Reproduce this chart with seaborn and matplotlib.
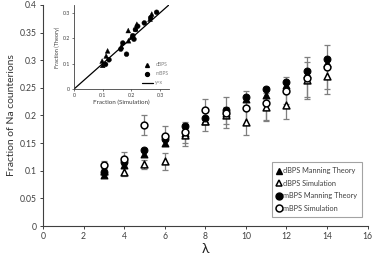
import matplotlib
matplotlib.use("Agg")
import matplotlib.pyplot as plt
import seaborn as sns
import numpy as np
import pandas as pd
from matplotlib.lines import Line2D

# ---- data ----
lam = [3, 4, 5, 6, 7, 8, 9, 10, 11, 12, 13, 14]
dbps_theory = [0.093, 0.110, 0.130, 0.150, 0.168, 0.190, 0.205, 0.230, 0.237, 0.255, 0.275, 0.295]
dbps_sim = [0.100, 0.098, 0.112, 0.117, 0.165, 0.190, 0.200, 0.189, 0.215, 0.219, 0.265, 0.271]
dbps_sim_err = [0.005, 0.007, 0.008, 0.015, 0.020, 0.019, 0.015, 0.024, 0.025, 0.026, 0.032, 0.032]
mbps_theory = [0.097, 0.115, 0.137, 0.157, 0.181, 0.196, 0.210, 0.234, 0.247, 0.260, 0.280, 0.302]
mbps_sim = [0.110, 0.122, 0.183, 0.163, 0.170, 0.209, 0.205, 0.214, 0.222, 0.245, 0.267, 0.288]
mbps_sim_err = [0.007, 0.011, 0.018, 0.018, 0.019, 0.020, 0.028, 0.030, 0.030, 0.025, 0.038, 0.040]

x_ticks = [0, 2, 4, 6, 8, 10, 12, 14, 16]
y_ticks = [0, 0.05, 0.1, 0.15, 0.2, 0.25, 0.3, 0.35, 0.4]
y_ticklabels = ["0", "0.05", "0.1", "0.15", "0.2", "0.25", "0.3", "0.35", "0.4"]
inset_ticks = [0, 0.1, 0.2, 0.3]
inset_ticklabels = ["0", "0.1", "0.2", "0.3"]

sns.set_style("ticks")
plt.rcParams["font.family"] = ["Lato", "DejaVu Sans"]

fig = plt.figure(figsize=(3.74, 2.58), dpi=100)
ax = fig.add_axes([0.115, 0.124, 0.868, 0.857])

df = pd.DataFrame({
    "lam": lam,
    "dbps_theory": dbps_theory,
    "dbps_sim": dbps_sim,
    "mbps_theory": mbps_theory,
    "mbps_sim": mbps_sim,
})

errc = "#7f7f7f"
ax.errorbar(lam, dbps_sim, yerr=dbps_sim_err, fmt="none", ecolor=errc,
            elinewidth=0.9, capsize=2.5, capthick=0.9, zorder=1)
ax.errorbar(lam, mbps_sim, yerr=mbps_sim_err, fmt="none", ecolor=errc,
            elinewidth=0.9, capsize=2.5, capthick=0.9, zorder=1)

ms = 24
sns.scatterplot(data=df, x="lam", y="dbps_theory", marker="^", color="black",
                edgecolor="black", s=ms, linewidth=0.8, ax=ax, zorder=3)
sns.scatterplot(data=df, x="lam", y="dbps_sim", marker="^", color="white",
                edgecolor="black", s=ms, linewidth=1.1, ax=ax, zorder=3)
sns.scatterplot(data=df, x="lam", y="mbps_theory", marker="o", color="black",
                edgecolor="black", s=ms, linewidth=0.8, ax=ax, zorder=3)
sns.scatterplot(data=df, x="lam", y="mbps_sim", marker="o", color="white",
                edgecolor="black", s=ms, linewidth=1.1, ax=ax, zorder=4)

ax.set_xlim(0, 16)
ax.set_ylim(0, 0.4)
ax.set_xticks(x_ticks)
ax.set_xticklabels([str(t) for t in x_ticks])
ax.set_yticks(y_ticks)
ax.set_yticklabels(y_ticklabels)
ax.tick_params(labelsize=6.2, length=2.5, width=0.7, colors="#404040", labelcolor="#404040", pad=2)
for s in ["left", "bottom"]:
    ax.spines[s].set_color("#404040")
    ax.spines[s].set_linewidth(0.8)
sns.despine(ax=ax)
ax.set_xlabel("λ", fontsize=10, color="#222222", labelpad=1)
ax.set_ylabel("Fraction of Na counterions", fontsize=7.5, color="#333333", labelpad=3)

handles = [
    Line2D([], [], marker="^", color="black", linestyle="none", markersize=5),
    Line2D([], [], marker="^", markerfacecolor="white", markeredgecolor="black",
           markeredgewidth=1.1, linestyle="none", markersize=5),
    Line2D([], [], marker="o", color="black", linestyle="none", markersize=5),
    Line2D([], [], marker="o", markerfacecolor="white", markeredgecolor="black",
           markeredgewidth=1.1, linestyle="none", markersize=5),
]
labels = ["dBPS Manning Theory", "dBPS Simulation", "mBPS Manning Theory", "mBPS Simulation"]
leg = ax.legend(handles, labels, loc="lower right", bbox_to_anchor=(0.983, 0.04),
                fontsize=5.3, frameon=True, fancybox=False, handlelength=0.6,
                handletextpad=0.2, borderpad=0.7, labelspacing=0.75, borderaxespad=0)
leg.get_frame().set_edgecolor("#8c8c8c")
leg.get_frame().set_linewidth(0.8)
for t in leg.get_texts():
    t.set_color("#404040")

# ---- inset ----
ax2 = fig.add_axes([0.198, 0.655, 0.253, 0.325])
ins = pd.DataFrame({
    "sim": dbps_sim + mbps_sim,
    "theory": dbps_theory + mbps_theory,
    "group": ["dBPS"] * len(lam) + ["mBPS"] * len(lam),
})
sns.scatterplot(data=ins, x="sim", y="theory", style="group",
                markers={"dBPS": "^", "mBPS": "o"}, color="black",
                edgecolor="black", s=12, linewidth=0.3, ax=ax2, legend=False, zorder=3)
ax2.plot([0, 0.33], [0, 0.33], color="black", linewidth=0.9, zorder=2)
ax2.set_xlim(0, 0.33)
ax2.set_ylim(0, 0.33)
ax2.set_xticks(inset_ticks)
ax2.set_xticklabels(inset_ticklabels)
ax2.set_yticks(inset_ticks)
ax2.set_yticklabels(inset_ticklabels)
ax2.tick_params(labelsize=3.8, length=1.5, width=0.5, colors="#404040", labelcolor="#404040", pad=1.5)
for s in ["left", "bottom"]:
    ax2.spines[s].set_color("#404040")
    ax2.spines[s].set_linewidth(0.6)
sns.despine(ax=ax2)
ax2.set_xlabel("Fraction (Simulation)", fontsize=4.5, color="#404040", labelpad=1.5)
ax2.set_ylabel("Fraction (Theory)", fontsize=4.0, color="#404040", labelpad=2)
ih = [
    Line2D([], [], marker="^", color="black", linestyle="none", markersize=2.8),
    Line2D([], [], marker="o", color="black", linestyle="none", markersize=2.8),
    Line2D([], [], color="black", linewidth=0.9),
]
leg2 = ax2.legend(ih, ["dBPS", "mBPS", "y=x"], loc="lower right", bbox_to_anchor=(1.02, 0.02),
                  fontsize=3.6, frameon=False, handlelength=2.2, handletextpad=0.5,
                  labelspacing=0.8, borderaxespad=0)
for t in leg2.get_texts():
    t.set_color("#7f7f7f")

fig.savefig("out.png", dpi=100)
